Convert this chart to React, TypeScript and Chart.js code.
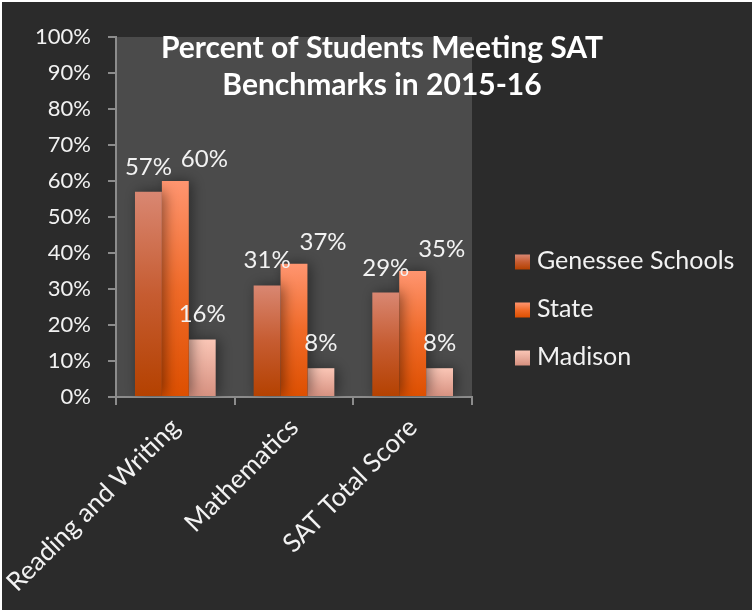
import React, { useEffect, useRef } from "react";
import { Chart, registerables } from "chart.js";

Chart.register(...registerables);

const categories = ["Reading and Writing", "Mathematics", "SAT Total Score"];
const seriesNames = ["Genessee Schools", "State", "Madison"];
const genessee = [57, 31, 29];
const stateVals = [60, 37, 35];
const madison = [16, 8, 8];
const titleLines = ["Percent of Students Meeting SAT", "Benchmarks in 2015-16"];

const FONT = "Lato, 'Open Sans', sans-serif";
const TEXT = "#f2f2f2";
const AXIS = "#8c8c8c";

const gradStops = [
  ["#d98772", "#c65c31", "#b44100"],
  ["#ff9570", "#f06a28", "#dd4f00"],
  ["#fac6b6", "#e8ab9b", "#d6907f"],
];
const labelDx = [0, 29, 0];
const labelGap = [17, 14, 17];

function makeGradient(chart: any, stops: string[], top: number, bottom: number) {
  const g = chart.ctx.createLinearGradient(0, top, 0, bottom);
  stops.forEach((c, i) => g.addColorStop(i / (stops.length - 1), c));
  return g;
}

function barFill(stops: string[]) {
  return (ctx: any) => {
    const chart = ctx.chart;
    if (!chart.chartArea || ctx.type !== "data") return stops[1];
    const y = chart.scales.y;
    const top = y.getPixelForValue(ctx.raw);
    const bottom = y.getPixelForValue(0);
    if (!isFinite(top) || !isFinite(bottom) || top === bottom) return stops[1];
    return makeGradient(chart, stops, top, bottom);
  };
}

const plotBgPlugin = {
  id: "plotBg",
  beforeDraw(chart: any) {
    const { ctx, chartArea: a } = chart;
    ctx.save();
    ctx.fillStyle = "#4b4b4b";
    ctx.fillRect(a.left, a.top, a.right - a.left, a.bottom - a.top);
    ctx.restore();
  },
};

const shadowPlugin = {
  id: "barShadow",
  beforeDatasetsDraw(chart: any) {
    const ctx = chart.ctx;
    ctx.save();
    ctx.shadowColor = "rgba(0,0,0,0.45)";
    ctx.shadowBlur = 14;
    ctx.shadowOffsetX = 3;
    ctx.shadowOffsetY = 0;
  },
  afterDatasetsDraw(chart: any) {
    chart.ctx.restore();
  },
};

const overlayPlugin = {
  id: "overlay",
  afterDraw(chart: any) {
    const { ctx, chartArea: a } = chart;
    ctx.save();
    // data labels
    ctx.fillStyle = TEXT;
    ctx.font = `24px ${FONT}`;
    ctx.textAlign = "center";
    ctx.textBaseline = "alphabetic";
    chart.data.datasets.forEach((ds: any, di: number) => {
      const meta = chart.getDatasetMeta(di);
      meta.data.forEach((el: any, i: number) => {
        ctx.fillText(`${ds.data[i]}%`, el.x + labelDx[di], el.y - labelGap[di]);
      });
    });
    // title
    ctx.font = `bold 30px ${FONT}`;
    ctx.fillStyle = "#ffffff";
    const cx = chart.width / 2 + 5;
    titleLines.forEach((t, i) => ctx.fillText(t, cx, 56 + i * 37));
    // legend
    const x0 = a.right + 43;
    ctx.font = `25px ${FONT}`;
    ctx.textAlign = "left";
    ctx.textBaseline = "middle";
    seriesNames.forEach((name, i) => {
      const cy = chart.height / 2 + 4 + (i - 1) * 48;
      ctx.fillStyle = makeGradient(chart, gradStops[i], cy - 7.5, cy + 7.5);
      ctx.fillRect(x0, cy - 7.5, 15, 15);
      ctx.fillStyle = TEXT;
      ctx.fillText(name, x0 + 22, cy - 1);
    });
    ctx.restore();
  },
};

export default function App() {
  const ref = useRef<HTMLCanvasElement | null>(null);
  useEffect(() => {
    if (!ref.current) return;
    const seriesData = [genessee, stateVals, madison];
    const chart = new Chart(ref.current, {
      type: "bar",
      data: {
        labels: categories,
        datasets: seriesNames.map((name, i) => ({
          label: name,
          data: seriesData[i],
          backgroundColor: barFill(gradStops[i]),
          borderWidth: 0,
          categoryPercentage: 0.68,
          barPercentage: 1,
        })),
      },
      options: {
        animation: false,
        responsive: true,
        maintainAspectRatio: false,
        layout: { padding: { left: 0, top: 35, right: 280, bottom: 0 } },
        plugins: {
          legend: { display: false },
          title: { display: false },
          tooltip: { enabled: false },
        },
        scales: {
          x: {
            grid: {
              offset: true,
              drawOnChartArea: false,
              drawTicks: true,
              tickLength: 8,
              color: AXIS,
              lineWidth: 2,
            },
            border: { display: true, color: AXIS, width: 2 },
            ticks: {
              color: TEXT,
              font: { family: FONT, size: 26 },
              minRotation: 45,
              maxRotation: 45,
              autoSkip: false,
              padding: 7,
            },
            afterFit: (s: any) => {
              s.height = 213;
              s.paddingLeft = 0;
              s.paddingRight = 0;
            },
          },
          y: {
            min: 0,
            max: 100,
            ticks: {
              stepSize: 10,
              color: TEXT,
              font: { family: FONT, size: 22 },
              padding: 17,
              callback: (v: any) => `${v}%`,
            },
            grid: {
              drawOnChartArea: false,
              drawTicks: true,
              tickLength: 8,
              color: AXIS,
              lineWidth: 2,
            },
            border: { display: true, color: AXIS, width: 2 },
            afterFit: (s: any) => {
              s.width = 114;
            },
          },
        },
      },
      plugins: [plotBgPlugin, shadowPlugin, overlayPlugin],
    });
    return () => chart.destroy();
  }, []);
  return (
    <div
      style={{
        position: "absolute",
        left: 2,
        top: 2,
        width: 750,
        height: 608,
        background: "#2b2b2b",
      }}
    >
      <canvas ref={ref} />
    </div>
  );
}
